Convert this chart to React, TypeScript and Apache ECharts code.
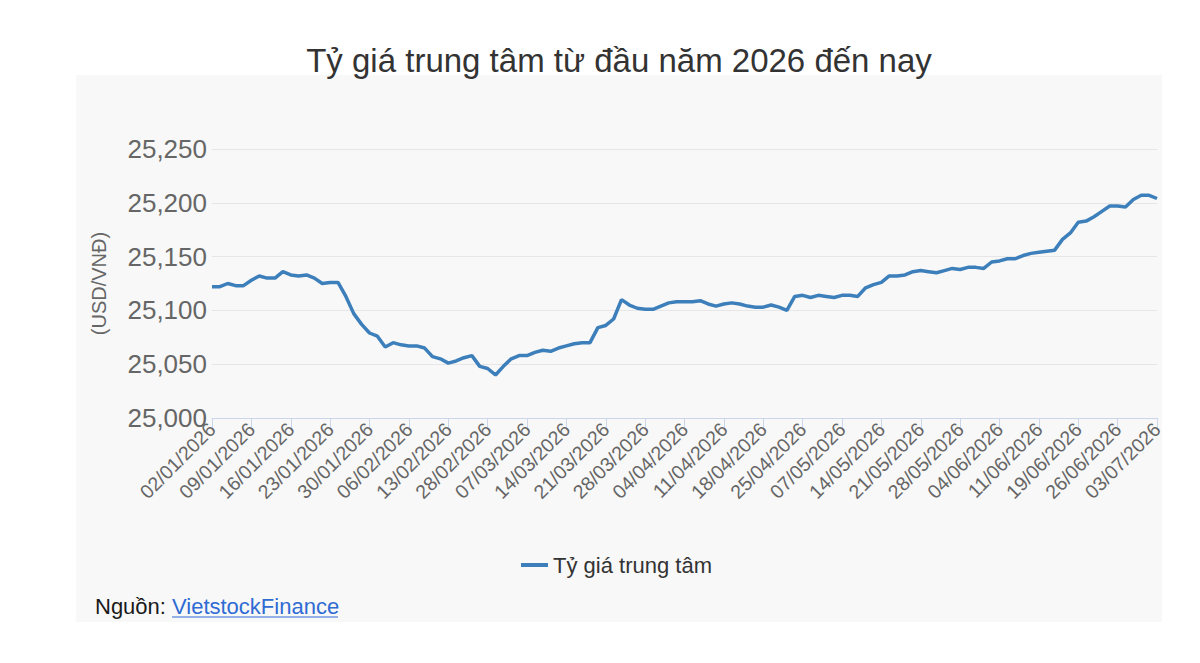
import React, { useEffect, useRef } from "react";
import * as echarts from "echarts";

const dates: string[] = [
  "02/01/2026", "05/01/2026", "06/01/2026", "07/01/2026", "08/01/2026",
  "09/01/2026", "12/01/2026", "13/01/2026", "14/01/2026", "15/01/2026",
  "16/01/2026", "19/01/2026", "20/01/2026", "21/01/2026", "22/01/2026",
  "23/01/2026", "26/01/2026", "27/01/2026", "28/01/2026", "29/01/2026",
  "30/01/2026", "02/02/2026", "03/02/2026", "04/02/2026", "05/02/2026",
  "06/02/2026", "09/02/2026", "10/02/2026", "11/02/2026", "12/02/2026",
  "13/02/2026", "24/02/2026", "25/02/2026", "26/02/2026", "27/02/2026",
  "28/02/2026", "02/03/2026", "04/03/2026", "05/03/2026", "06/03/2026",
  "07/03/2026", "09/03/2026", "10/03/2026", "11/03/2026", "12/03/2026",
  "14/03/2026", "16/03/2026", "17/03/2026", "18/03/2026", "19/03/2026",
  "21/03/2026", "23/03/2026", "24/03/2026", "25/03/2026", "26/03/2026",
  "28/03/2026", "30/03/2026", "31/03/2026", "01/04/2026", "02/04/2026",
  "04/04/2026", "06/04/2026", "07/04/2026", "08/04/2026", "09/04/2026",
  "11/04/2026", "13/04/2026", "14/04/2026", "15/04/2026", "16/04/2026",
  "18/04/2026", "20/04/2026", "21/04/2026", "22/04/2026", "23/04/2026",
  "25/04/2026", "28/04/2026", "29/04/2026", "05/05/2026", "06/05/2026",
  "07/05/2026", "08/05/2026", "11/05/2026", "12/05/2026", "13/05/2026",
  "14/05/2026", "15/05/2026", "18/05/2026", "19/05/2026", "20/05/2026",
  "21/05/2026", "22/05/2026", "25/05/2026", "26/05/2026", "27/05/2026",
  "28/05/2026", "29/05/2026", "01/06/2026", "02/06/2026", "03/06/2026",
  "04/06/2026", "05/06/2026", "08/06/2026", "09/06/2026", "10/06/2026",
  "11/06/2026", "12/06/2026", "15/06/2026", "16/06/2026", "17/06/2026",
  "19/06/2026", "22/06/2026", "23/06/2026", "24/06/2026", "25/06/2026",
  "26/06/2026", "29/06/2026", "30/06/2026", "01/07/2026", "02/07/2026",
  "03/07/2026",
];

const rates: number[] = [
  25122, 25122, 25125, 25123, 25123,
  25128, 25132, 25130, 25130, 25136,
  25133, 25132, 25133, 25130, 25125,
  25126, 25126, 25113, 25097, 25087,
  25079, 25076, 25066, 25070, 25068,
  25067, 25067, 25065, 25057, 25055,
  25051, 25053, 25056, 25058, 25048,
  25046, 25040, 25048, 25055, 25058,
  25058, 25061, 25063, 25062, 25065,
  25067, 25069, 25070, 25070, 25084,
  25086, 25092, 25110, 25105, 25102,
  25101, 25101, 25104, 25107, 25108,
  25108, 25108, 25109, 25106, 25104,
  25106, 25107, 25106, 25104, 25103,
  25103, 25105, 25103, 25100, 25113,
  25114, 25112, 25114, 25113, 25112,
  25114, 25114, 25113, 25121, 25124,
  25126, 25132, 25132, 25133, 25136,
  25137, 25136, 25135, 25137, 25139,
  25138, 25140, 25140, 25139, 25145,
  25146, 25148, 25148, 25151, 25153,
  25154, 25155, 25156, 25166, 25172,
  25182, 25183, 25187, 25192, 25197,
  25197, 25196, 25203, 25207, 25207,
  25204,
];

const yMin = 25000;
const yMax = 25250;
const yStep = 50;

const titleText = "Tỷ giá trung tâm từ đầu năm 2026 đến nay";
const seriesName = "Tỷ giá trung tâm";
const yAxisName = "(USD/VNĐ)";
const sourceLabel = "Nguồn:";
const sourceLink = "VietstockFinance";

const FONT = "'Liberation Sans', Arial, Helvetica, sans-serif";

export default function App() {
  const ref = useRef<HTMLDivElement>(null);

  useEffect(() => {
    if (!ref.current) return;
    const chart = echarts.init(ref.current, null, { renderer: "svg" });
    chart.setOption({
      animation: false,
      backgroundColor: "#ffffff",
      textStyle: { fontFamily: FONT },
      graphic: [
        {
          type: "rect",
          z: -10,
          shape: { x: 76, y: 75, width: 1086, height: 547 },
          style: { fill: "#f8f8f8" },
          silent: true,
        },
        {
          type: "text",
          x: 619,
          y: 60,
          style: {
            text: titleText,
            fontSize: 33,
            fontFamily: FONT,
            fill: "#333333",
            textAlign: "center",
            textVerticalAlign: "middle",
          },
        },
        {
          type: "text",
          x: 95,
          y: 606,
          style: {
            text: sourceLabel,
            fontSize: 22,
            fontFamily: FONT,
            fill: "#1a1a1a",
            textAlign: "left",
            textVerticalAlign: "middle",
          },
        },
        {
          type: "text",
          x: 172,
          y: 606,
          style: {
            text: sourceLink,
            fontSize: 22,
            fontFamily: FONT,
            fill: "#2f6bd3",
            textAlign: "left",
            textVerticalAlign: "middle",
          },
        },
        {
          type: "line",
          shape: { x1: 172, y1: 617, x2: 338, y2: 617 },
          style: { stroke: "#2f6bd3", lineWidth: 1.2 },
        },
      ],
      legend: {
        data: [seriesName],
        left: 521,
        top: 554,
        padding: 0,
        icon: "rect",
        itemWidth: 27,
        itemHeight: 4,
        itemGap: 10,
        textStyle: { fontSize: 22, color: "#333333", fontFamily: FONT },
      },
      grid: { left: 212, right: 43, top: 149, bottom: 245, containLabel: false },
      xAxis: {
        type: "category",
        data: dates,
        boundaryGap: false,
        axisLine: { lineStyle: { color: "#ccd6eb", width: 1 } },
        axisTick: {
          show: true,
          interval: 4,
          length: 10,
          lineStyle: { color: "#ccd6eb" },
        },
        axisLabel: {
          interval: 4,
          rotate: 45,
          fontSize: 19.5,
          color: "#666666",
          margin: 8,
          fontFamily: FONT,
        },
        splitLine: { show: false },
      },
      yAxis: {
        type: "value",
        min: yMin,
        max: yMax,
        interval: yStep,
        name: yAxisName,
        nameLocation: "middle",
        nameRotate: 90,
        nameGap: 103,
        nameTextStyle: { fontSize: 20, color: "#666666", fontFamily: FONT },
        axisLine: { show: false },
        axisTick: { show: false },
        axisLabel: {
          fontSize: 26,
          color: "#666666",
          margin: 5,
          fontFamily: FONT,
          formatter: (v: number) => v.toLocaleString("en-US"),
        },
        splitLine: { lineStyle: { color: "#e6e6e6", width: 1 } },
      },
      series: [
        {
          name: seriesName,
          type: "line",
          data: rates,
          symbol: "none",
          lineStyle: { color: "#3d7fba", width: 3.5 },
          itemStyle: { color: "#3d7fba" },
        },
      ],
    });
    return () => chart.dispose();
  }, []);

  return (
    <div
      ref={ref}
      style={{ position: "absolute", left: 0, top: 0, width: 1200, height: 663 }}
    />
  );
}
